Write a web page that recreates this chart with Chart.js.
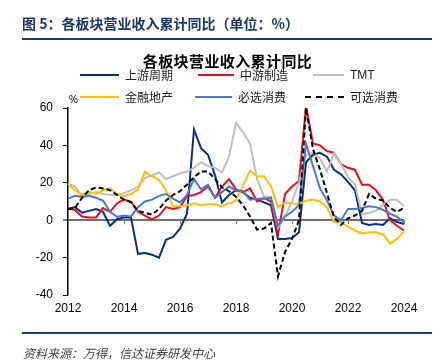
<!DOCTYPE html>
<html><head><meta charset="utf-8">
<script src="https://cdn.jsdelivr.net/npm/chart.js@4.4.1/dist/chart.umd.min.js"></script>
<style>
html,body{margin:0;padding:0;background:#fff;}
body{width:438px;height:364px;position:relative;overflow:hidden;font-family:"Noto Sans CJK SC","Noto Sans",sans-serif;}
#c{position:absolute;left:0;top:0;}
.t{position:absolute;white-space:nowrap;line-height:1;}
.rule{position:absolute;left:22px;width:410px;height:2px;background:#1f3b73;}
.lg{position:absolute;width:40px;height:0;}
</style>
</head><body>
<canvas id="c" width="438" height="364"></canvas>
<div class="t" style="left:22px;top:16px;font-size:14px;font-weight:bold;color:#1f3864;">图 5：各板块营业收入累计同比（单位：%）</div>
<div class="rule" style="top:38px;"></div>
<div class="t" style="left:0;width:455px;text-align:center;top:53px;font-size:15px;font-weight:bold;color:#000;letter-spacing:0.4px;">各板块营业收入累计同比</div>
<div class="t" style="left:69px;top:95px;font-size:10px;color:#000;font-family:'Liberation Sans',Arial,sans-serif;">%</div>
<div id="legend"></div>
<div class="rule" style="top:332px;"></div>
<div class="t" style="left:23px;top:347px;font-size:12px;font-style:italic;color:#404040;">资料来源：万得，信达证券研发中心</div>
<script>
// ---- data ----
const categories = [
 "2012Q1","2012Q2","2012Q3","2012Q4","2013Q1","2013Q2","2013Q3","2013Q4",
 "2014Q1","2014Q2","2014Q3","2014Q4","2015Q1","2015Q2","2015Q3","2015Q4",
 "2016Q1","2016Q2","2016Q3","2016Q4","2017Q1","2017Q2","2017Q3","2017Q4",
 "2018Q1","2018Q2","2018Q3","2018Q4","2019Q1","2019Q2","2019Q3","2019Q4",
 "2020Q1","2020Q2","2020Q3","2020Q4","2021Q1","2021Q2","2021Q3","2021Q4",
 "2022Q1","2022Q2","2022Q3","2022Q4","2023Q1","2023Q2","2023Q3","2023Q4",
 "2024Q1"];
const tickLabels = ["2012","2014","2016","2018","2020","2022","2024"];
const seriesNames = ["上游周期","中游制造","TMT","金融地产","必选消费","可选消费"];
const upstream = [6,7,4,5,6,4.5,-3,0.5,1.5,1.5,-18,-17.5,-18.5,-20,-10.5,-9,-4.5,3.5,48.5,38.5,35,24,9.5,13.5,16,15,12,11,9.5,8,-10,-10,-9.5,-6.5,31,35,36,34,27,24.5,20.5,16,-1.5,-2.5,-2,-2.5,1,-1,-2];
const midstream = [6.5,5.5,2,1.5,1.5,6.5,4.5,9,11,10,4.5,2.5,0.5,2.5,7,6,7,13,13.5,15,18,12,18,22,16.5,15,17,10,12,10,-7.5,14,18,21,61,41,40,37,36,30,28,27,19,19,16,11,0,-3,-5.5];
const tmt = [19.5,18,13,14,15,14,13.5,13.5,14.5,16,18,22.5,24,25.5,22,23.5,25,26,28,31,29,28,25.5,34,52,47,41,22,12.5,12.5,-4,2,10,20,35,36,33,26,36,30,23,19,3,4,5,8,11,11,7.5];
const finance = [19.5,16,13.5,15,14,16,17,14,13,14,16.5,26,23.5,21.5,16,7.5,7.5,8,9,8,8.5,8.5,7.5,9,10.5,18.5,26.5,23.5,23.5,18,7,9.5,9,8.5,10.5,11,10,7,-1,-1,-3.5,-5.5,-7,-6.5,-6.5,-7.5,-12.5,-10,-6];
const staples = [11.5,13,12.5,13,12,10.5,4.5,1.8,2.5,2,7,10,11,13,14,11.5,9.5,13.5,22,16.5,19,12,15,18,16,15.5,11,11.5,11.5,12,-3,2,4.5,8,41,29,17,10.5,2.5,0,6,6,6.5,7.5,7,5.5,3.5,1.8,-1];
const discretionary = [5.8,6.5,12,16,17.5,17,16,13.5,11,9.5,5,4,3,6,10.5,13.5,15.5,19,23,26,26,22,17.5,15.5,12.5,8,2,-5,-4.5,-1.5,-30,-17,-10,0,60,38,27,14.5,1.5,-2.5,1,2.5,5,14,11.5,10.5,6.5,4.5,6.5];

// ---- styles ----
const colors = ["#0c2d83","#e8101e","#bfbfbf","#ffc000","#4a78d0","#000000"];
const dashes = [[],[],[],[],[],[5,3]];
const legendPos = [[80,75,125],[198,75,240],[313,75,350],[80,97,125],[195,97,238],[305,97,350]];

const values = [upstream, midstream, tmt, finance, staples, discretionary];

// legend (HTML)
const lg = document.getElementById('legend');
seriesNames.forEach((n,i)=>{
  const [lx,ly,tx] = legendPos[i];
  const l = document.createElement('div');
  l.className='lg';
  l.style.left=lx+'px'; l.style.top=(ly-1)+'px';
  l.style.width=(tx-lx-6)+'px';
  l.style.borderTop = '2px '+(dashes[i].length?'dashed':'solid')+' '+colors[i];
  lg.appendChild(l);
  const t = document.createElement('div');
  t.className='t'; t.textContent=n;
  t.style.left=tx+'px'; t.style.top=(ly-6)+'px'; t.style.fontSize='12px'; t.style.color='#222';
  if(n==='TMT'){t.style.fontFamily="'Liberation Sans',Arial,sans-serif";}
  lg.appendChild(t);
});

const tickIdx = {};
categories.forEach((c,i)=>{
  const y = c.slice(0,4);
  if(c.endsWith('Q1') && tickLabels.includes(y)) tickIdx[i]=y;
});

const zeroTicks = {
  id:'zeroTicks',
  afterDatasetsDraw(chart){
    const {ctx, scales:{x,y}} = chart;
    const y0 = y.getPixelForValue(0);
    ctx.save();
    ctx.strokeStyle='#7f7f7f'; ctx.lineWidth=1;
    Object.keys(tickIdx).forEach(k=>{
      const i = +k; if(i===0) return;
      const px = Math.round(x.getPixelForValue(i))+0.5;
      ctx.beginPath(); ctx.moveTo(px,y0); ctx.lineTo(px,y0+4); ctx.stroke();
    });
    ctx.restore();
  }
};

const tickFont = {family:"'Liberation Sans', Arial, sans-serif", size:12};

new Chart(document.getElementById('c'), {
  type:'line',
  data:{
    labels:categories,
    datasets: seriesNames.map((n,i)=>({
      label:n, data:values[i], borderColor:colors[i], backgroundColor:colors[i],
      borderWidth:2, borderDash:dashes[i], pointRadius:0, tension:0, fill:false,
      order: 6-i
    }))
  },
  options:{
    responsive:false, animation:false,
    layout:{padding:{left:0,right:34,top:108,bottom:39}},
    plugins:{legend:{display:false}, title:{display:false}, tooltip:{enabled:false}},
    scales:{
      x:{
        grid:{display:false, drawTicks:false},
        border:{display:false},
        ticks:{autoSkip:false, maxRotation:0, minRotation:0, padding:6, color:'#000', font:tickFont,
          callback:(v,i)=> tickIdx[i] ?? ''},
        afterFit:s=>{s.height=30;}
      },
      y:{
        min:-40, max:60,
        ticks:{stepSize:20, padding:10, color:'#000', font:tickFont},
        grid:{
          drawOnChartArea:true, drawTicks:true, tickLength:5,
          color:c=> (c.tick && c.tick.value===0) ? '#6f6f6f' : 'rgba(0,0,0,0)',
          lineWidth:c=> (c.tick && c.tick.value===0) ? 2 : 1,
          tickColor:'#000', tickWidth:1
        },
        border:{display:true, color:'#000', width:1.5},
        afterFit:s=>{s.width=68;}
      }
    }
  },
  plugins:[zeroTicks]
});
</script>
</body></html>
